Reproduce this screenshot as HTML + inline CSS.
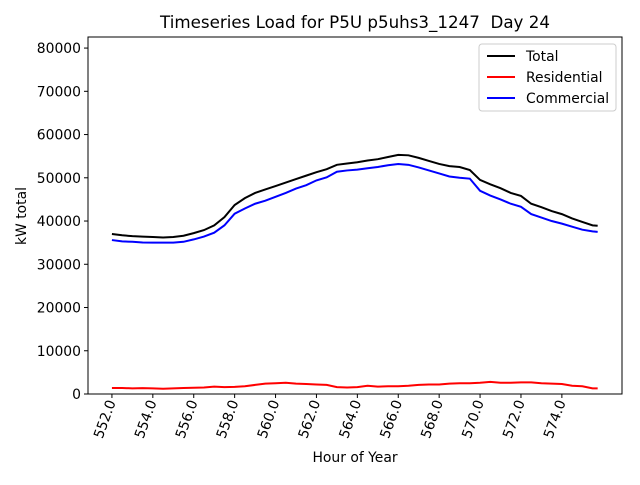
<!DOCTYPE html>
<html><head><meta charset="utf-8"><style>
body{margin:0;background:#fff;}
svg text{font-family:"DejaVu Sans","Liberation Sans",sans-serif;}
</style></head><body>
<svg id="chart" width="640" height="480">
<rect width="640" height="480" fill="#fff"/>
<text x="355" y="28" font-size="16.7" text-anchor="middle">Timeseries Load for P5U p5uhs3_1247&#160; Day 24</text>
<g id="plot"></g>
<text x="355" y="462" font-size="13.9" text-anchor="middle">Hour of Year</text>
<text transform="translate(26,216) rotate(-90)" font-size="13.9" text-anchor="middle">kW total</text>
<g>
<rect x="479" y="44" width="137" height="67" rx="3" fill="#fff" stroke="#ccc"/>
<line x1="487" y1="56" x2="515" y2="56" stroke="#000" stroke-width="2"/>
<text x="526" y="61" font-size="13.9">Total</text>
<line x1="487" y1="77" x2="515" y2="77" stroke="#f00" stroke-width="2"/>
<text x="526" y="82" font-size="13.9">Residential</text>
<line x1="487" y1="98" x2="515" y2="98" stroke="#00f" stroke-width="2"/>
<text x="526" y="103" font-size="13.9">Commercial</text>
</g>
</svg>
<script>
const hours = [552,552.5,553,553.5,554,554.5,555,555.5,556,556.5,557,557.5,558,558.5,559,559.5,560,560.5,561,561.5,562,562.5,563,563.5,564,564.5,565,565.5,566,566.5,567,567.5,568,568.5,569,569.5,570,570.5,571,571.5,572,572.5,573,573.5,574,574.5,575,575.5,575.75];
const total = [37000,36700,36500,36400,36300,36200,36300,36600,37200,37900,39000,40900,43700,45300,46500,47300,48100,48900,49700,50500,51300,52000,53000,53300,53600,54000,54300,54800,55300,55200,54600,53900,53200,52700,52500,51800,49500,48500,47600,46500,45800,44000,43200,42300,41600,40600,39800,39000,38900];
const residential = [1400,1400,1300,1350,1300,1200,1300,1400,1450,1500,1700,1600,1650,1800,2100,2400,2500,2600,2400,2300,2200,2100,1600,1500,1600,1900,1700,1800,1800,1900,2100,2200,2200,2400,2500,2500,2600,2800,2600,2600,2700,2700,2500,2400,2300,1900,1800,1300,1300];
const commercial = [35600,35300,35200,35050,35000,35000,35000,35200,35750,36400,37300,39000,41700,42900,44000,44700,45600,46500,47500,48300,49400,50100,51400,51700,51900,52200,52500,52900,53200,53000,52400,51700,51000,50300,50000,49800,47000,45900,45000,44000,43300,41600,40800,40000,39400,38700,38000,37600,37500];
const xTicks = [552,554,556,558,560,562,564,566,568,570,572,574];
const yTicks = [0,10000,20000,30000,40000,50000,60000,70000,80000];
const L=88,R=622,T=37,B=394,xmin=550.83,xmax=576.94,ymax=82560;
const sx=v=>L+(v-xmin)/(xmax-xmin)*(R-L);
const sy=v=>B-v/ymax*(B-T);
const NS='http://www.w3.org/2000/svg';
const g=document.getElementById('plot');
function mk(t,a){const e=document.createElementNS(NS,t);for(const k in a)e.setAttribute(k,a[k]);g.appendChild(e);return e;}
function series(vals,color,name){
  const d=vals.map((v,i)=>(i?'L':'M')+sx(hours[i]).toFixed(2)+','+sy(v).toFixed(2)).join('');
  const p=mk('path',{d:d,fill:'none',stroke:color,'stroke-width':2});
  
  
}
series(total,'#000','line-total');
series(residential,'#f00','line-residential');
series(commercial,'#00f','line-commercial');
const frame=mk('rect',{x:L,y:T,width:R-L,height:B-T,fill:'none',stroke:'#000','stroke-width':1});


xTicks.forEach(t=>{
  const x=sx(t);
  mk('line',{x1:x,y1:B,x2:x,y2:B+4,stroke:'#000'});
  const tx=mk('text',{transform:`translate(${x+4},${B+8}) rotate(-70)`,'font-size':13.9,'text-anchor':'end'});
  tx.textContent=t.toFixed(1);
  
  
});
yTicks.forEach(t=>{
  const y=sy(t);
  mk('line',{x1:L-4,y1:y,x2:L,y2:y,stroke:'#000'});
  const tx=mk('text',{x:L-7,y:y+5,'font-size':13.9,'text-anchor':'end'});
  tx.textContent=t;
  
  
});
</script>
</body></html>
